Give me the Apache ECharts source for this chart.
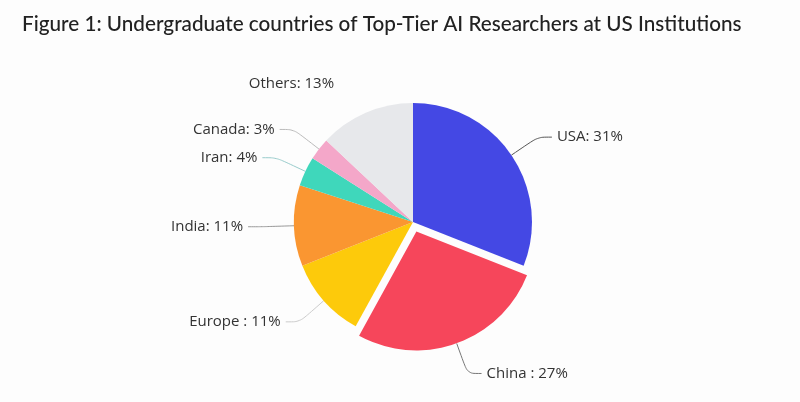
<!DOCTYPE html>
<html>
<head>
<meta charset="utf-8">
<script src="https://cdn.jsdelivr.net/npm/echarts@6/dist/echarts.min.js"></script>
<style>
  html, body { margin: 0; padding: 0; background: #fdfdfd; }
  #chart { width: 800px; height: 402px; }
</style>
</head>
<body>
<div id="chart"></div>
<script>
// shares in percent, clockwise from 12 o'clock
var names = ['USA', 'China', 'Europe', 'India', 'Iran', 'Canada', 'Others'];
var values = [31, 27, 11, 11, 4, 3, 13];
var separators = [': ', ' : ', ' : ', ': ', ': ', ': ', ': '];

var colors = ['#4448e4', '#f6465b', '#fdca0b', '#fa9631', '#3fd7bb', '#f4a7c9', '#e7e8eb'];
var lineColors = ['#555', '#777', '#ccc', '#999', '#9cc', '#bbb', 'rgba(0,0,0,0)'];

var chart = echarts.init(document.getElementById('chart'));

var data = names.map(function (name, i) {
    return {
        name: name,
        value: values[i],
        selected: name === 'China',
        itemStyle: { color: colors[i] },
        labelLine: { lineStyle: { color: lineColors[i] } }
    };
});

chart.setOption({
    backgroundColor: '#fdfdfd',
    title: {
        text: 'Figure 1: Undergraduate countries of Top-Tier AI Researchers at US Institutions',
        left: 17,
        top: 9,
        textStyle: {
            fontFamily: 'Lato',
            fontSize: 20.7,
            fontWeight: 500,
            color: '#222'
        }
    },
    series: [{
        type: 'pie',
        center: [413, 222],
        radius: 119,
        startAngle: 90,
        clockwise: true,
        selectedMode: 'single',
        selectedOffset: 10,
        avoidLabelOverlap: false,
        data: data,
        label: {
            fontFamily: 'Open Sans',
            fontSize: 15,
            color: '#333',
            formatter: function (p) {
                return p.name + separators[p.dataIndex] + p.value + '%';
            }
        },
        labelLine: {
            length: 32,
            length2: 14,
            smooth: 0.3,
            lineStyle: { width: 1 }
        },
        emphasis: { scale: false }
    }]
});
</script>
</body>
</html>
